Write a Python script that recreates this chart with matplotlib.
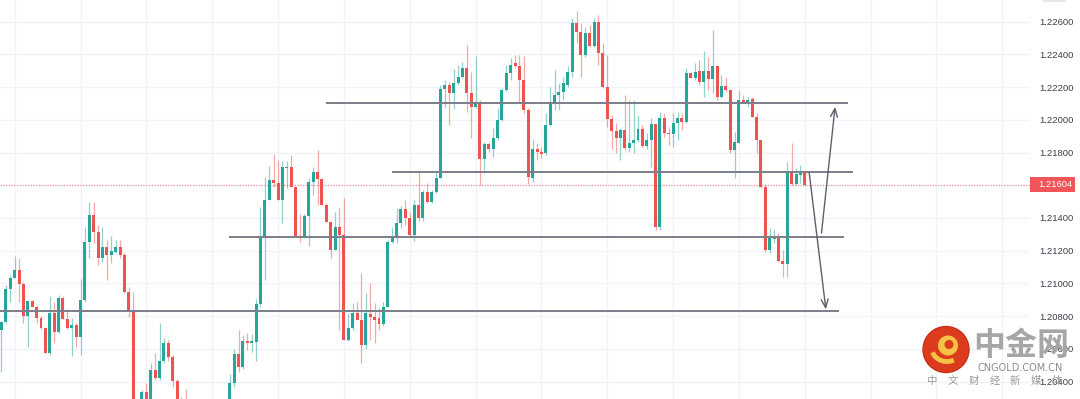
import matplotlib
matplotlib.use("Agg")
import matplotlib.pyplot as plt
import numpy as np
from matplotlib.patches import Rectangle, Circle, Arc
from matplotlib.transforms import IdentityTransform, blended_transform_factory

# EUR/USD style candles (left to right)
opens = [
    1.20715, 1.20764, 1.20965, 1.21033, 1.21082, 1.20996, 1.20800, 1.20892, 1.20855, 1.20788,
    1.20727, 1.20574, 1.20819, 1.20703, 1.20910, 1.20782, 1.20727, 1.20746, 1.20672, 1.20898,
    1.21253, 1.21418, 1.21314, 1.21155, 1.21222, 1.21173, 1.21192, 1.21222, 1.21173, 1.20947,
    1.20831, 1.20225, 1.20213, 1.20336, 1.20274, 1.20470, 1.20421, 1.20525, 1.20636, 1.20550,
    1.20403, 1.20256, 1.20195, 1.20134, 1.20110, 1.20150, 1.20120, 1.20060, 1.20120, 1.20170,
    1.20130, 1.20200, 1.20287, 1.20391, 1.20568, 1.20489, 1.20648, 1.20636, 1.20642, 1.20874,
    1.21284, 1.21510, 1.21632, 1.21614, 1.21510, 1.21705, 1.21712, 1.21589, 1.21284, 1.21277,
    1.21412, 1.21620, 1.21681, 1.21638, 1.21479, 1.21375, 1.21204, 1.21345, 1.21296, 1.20654,
    1.20727, 1.20819, 1.20776, 1.20623, 1.20813, 1.20794, 1.20788, 1.20752, 1.20855, 1.21253,
    1.21290, 1.21369, 1.21455, 1.21400, 1.21296, 1.21479, 1.21400, 1.21559, 1.21497, 1.21559,
    1.21644, 1.22189, 1.22213, 1.22164, 1.22225, 1.22262, 1.22317, 1.22164, 1.22079, 1.22109,
    1.21761, 1.21852, 1.21822, 1.21889, 1.21999, 1.22183, 1.22287, 1.22348, 1.22329, 1.22244,
    1.22060, 1.21644, 1.21822, 1.21803, 1.21797, 1.21968, 1.22103, 1.22152, 1.22170, 1.22213,
    1.22293, 1.22592, 1.22537, 1.22397, 1.22531, 1.22452, 1.22598, 1.22409, 1.22201, 1.22005,
    1.21932, 1.21889, 1.21938, 1.21828, 1.21858, 1.21877, 1.21944, 1.21840, 1.21877, 1.21975,
    1.21345, 1.22011, 1.21920, 1.21913, 1.21981, 1.22011, 1.21987, 1.22287, 1.22256, 1.22299,
    1.22232, 1.22299, 1.22250, 1.22329, 1.22140, 1.22207, 1.22183, 1.21816, 1.21858, 1.22121,
    1.22103, 1.22127, 1.22017, 1.21877, 1.21589, 1.21204, 1.21271, 1.21277, 1.21137, 1.21118,
    1.21681, 1.21608, 1.21663, 1.21675,
]
highs = [
    1.20770, 1.20990, 1.21051, 1.21167, 1.21155, 1.21008, 1.20892, 1.20898, 1.20868, 1.20800,
    1.20733, 1.20923, 1.20886, 1.20929, 1.20923, 1.20843, 1.20788, 1.20758, 1.21026, 1.21345,
    1.21497, 1.21497, 1.21357, 1.21345, 1.21265, 1.21290, 1.21265, 1.21265, 1.21186, 1.20977,
    1.20947, 1.20270, 1.20348, 1.20391, 1.20513, 1.20574, 1.20758, 1.20666, 1.20654, 1.20562,
    1.20415, 1.20305, 1.20354, 1.20200, 1.20180, 1.20210, 1.20160, 1.20140, 1.20190, 1.20230,
    1.20220, 1.20270, 1.20446, 1.20599, 1.20715, 1.20684, 1.20697, 1.20690, 1.20904, 1.21467,
    1.21650, 1.21718, 1.21791, 1.21754, 1.21748, 1.21748, 1.21785, 1.21589, 1.21424, 1.21424,
    1.21644, 1.21712, 1.21816, 1.21638, 1.21491, 1.21375, 1.21436, 1.21461, 1.21522, 1.20819,
    1.20880, 1.20886, 1.21063, 1.20941, 1.21002, 1.20880, 1.20849, 1.20886, 1.21265, 1.21345,
    1.21461, 1.21473, 1.21510, 1.21436, 1.21510, 1.21681, 1.21571, 1.21614, 1.21571, 1.21681,
    1.22213, 1.22244, 1.22232, 1.22311, 1.22336, 1.22354, 1.22458, 1.22293, 1.22391, 1.22121,
    1.21864, 1.21864, 1.21950, 1.22072, 1.22195, 1.22336, 1.22378, 1.22397, 1.22397, 1.22391,
    1.22072, 1.21883, 1.21858, 1.21834, 1.22042, 1.22201, 1.22305, 1.22225, 1.22262, 1.22329,
    1.22623, 1.22666, 1.22592, 1.22568, 1.22580, 1.22623, 1.22641, 1.22470, 1.22397, 1.22030,
    1.21981, 1.21950, 1.22152, 1.22121, 1.22121, 1.22030, 1.21968, 1.21920, 1.22011, 1.21975,
    1.22048, 1.22042, 1.21956, 1.22042, 1.22048, 1.22042, 1.22317, 1.22293, 1.22348, 1.22366,
    1.22421, 1.22384, 1.22550, 1.22329, 1.22274, 1.22262, 1.22183, 1.21926, 1.22183, 1.22152,
    1.22140, 1.22140, 1.22042, 1.21877, 1.21608, 1.21339, 1.21326, 1.21308, 1.21204, 1.21742,
    1.21858, 1.21705, 1.21724, 1.21681,
]
lows = [
    1.20458, 1.20758, 1.20886, 1.21033, 1.20886, 1.20758, 1.20611, 1.20855, 1.20758, 1.20721,
    1.20574, 1.20562, 1.20636, 1.20697, 1.20782, 1.20721, 1.20556, 1.20611, 1.20562, 1.20886,
    1.21155, 1.21247, 1.21112, 1.21131, 1.21020, 1.21125, 1.21186, 1.21155, 1.20941, 1.20794,
    1.20195, 1.20150, 1.20190, 1.20230, 1.20240, 1.20409, 1.20409, 1.20513, 1.20525, 1.20366,
    1.20225, 1.20164, 1.20103, 1.20080, 1.20060, 1.20090, 1.20030, 1.20020, 1.20080, 1.20100,
    1.20110, 1.20150, 1.20256, 1.20366, 1.20458, 1.20476, 1.20593, 1.20581, 1.20525, 1.20855,
    1.21020, 1.21510, 1.21589, 1.21510, 1.21369, 1.21583, 1.21589, 1.21284, 1.21253, 1.21277,
    1.21228, 1.21540, 1.21479, 1.21479, 1.21375, 1.21155, 1.21204, 1.20715, 1.20654, 1.20648,
    1.20715, 1.20776, 1.20513, 1.20599, 1.20654, 1.20636, 1.20715, 1.20740, 1.20855, 1.21247,
    1.21247, 1.21339, 1.21357, 1.21284, 1.21259, 1.21381, 1.21381, 1.21491, 1.21491, 1.21553,
    1.21644, 1.22072, 1.21968, 1.22066, 1.22213, 1.22256, 1.22048, 1.21889, 1.22072, 1.21601,
    1.21693, 1.21803, 1.21773, 1.21877, 1.21993, 1.22176, 1.22244, 1.22317, 1.22103, 1.22042,
    1.21608, 1.21620, 1.21754, 1.21767, 1.21785, 1.21962, 1.22060, 1.22060, 1.22121, 1.22201,
    1.22262, 1.22470, 1.22262, 1.22384, 1.22446, 1.22446, 1.22336, 1.22195, 1.21956, 1.21822,
    1.21797, 1.21754, 1.21816, 1.21803, 1.21797, 1.21864, 1.21834, 1.21822, 1.21712, 1.21326,
    1.21326, 1.21895, 1.21846, 1.21834, 1.21877, 1.21938, 1.21981, 1.22256, 1.22244, 1.22213,
    1.22140, 1.22183, 1.22164, 1.22121, 1.22134, 1.22170, 1.21797, 1.21644, 1.21858, 1.22103,
    1.22079, 1.22017, 1.21797, 1.21583, 1.21192, 1.21186, 1.21247, 1.21131, 1.21039, 1.21039,
    1.21601, 1.21601, 1.21614, 1.21595,
]
closes = [
    1.20764, 1.20965, 1.21033, 1.21082, 1.20996, 1.20800, 1.20892, 1.20855, 1.20788, 1.20727,
    1.20574, 1.20819, 1.20703, 1.20910, 1.20782, 1.20727, 1.20746, 1.20672, 1.20898, 1.21253,
    1.21418, 1.21314, 1.21155, 1.21222, 1.21173, 1.21198, 1.21222, 1.21173, 1.20947, 1.20831,
    1.20225, 1.20200, 1.20336, 1.20256, 1.20470, 1.20421, 1.20525, 1.20636, 1.20550, 1.20403,
    1.20256, 1.20195, 1.20134, 1.20110, 1.20150, 1.20120, 1.20060, 1.20120, 1.20170, 1.20130,
    1.20200, 1.20250, 1.20391, 1.20568, 1.20489, 1.20648, 1.20636, 1.20648, 1.20874, 1.21284,
    1.21510, 1.21632, 1.21614, 1.21510, 1.21712, 1.21712, 1.21589, 1.21284, 1.21277, 1.21412,
    1.21620, 1.21681, 1.21638, 1.21479, 1.21375, 1.21204, 1.21345, 1.21296, 1.20654, 1.20727,
    1.20819, 1.20776, 1.20623, 1.20819, 1.20794, 1.20776, 1.20752, 1.20855, 1.21253, 1.21284,
    1.21369, 1.21455, 1.21400, 1.21296, 1.21479, 1.21400, 1.21559, 1.21497, 1.21559, 1.21644,
    1.22189, 1.22213, 1.22164, 1.22225, 1.22262, 1.22317, 1.22164, 1.22079, 1.22109, 1.21761,
    1.21852, 1.21822, 1.21889, 1.21999, 1.22183, 1.22287, 1.22336, 1.22329, 1.22244, 1.22060,
    1.21650, 1.21822, 1.21803, 1.21791, 1.21968, 1.22103, 1.22152, 1.22170, 1.22225, 1.22293,
    1.22592, 1.22537, 1.22397, 1.22531, 1.22452, 1.22598, 1.22409, 1.22201, 1.22005, 1.21932,
    1.21889, 1.21938, 1.21828, 1.21858, 1.21877, 1.21944, 1.21840, 1.21877, 1.21975, 1.21345,
    1.22011, 1.21920, 1.21913, 1.21981, 1.22011, 1.21987, 1.22287, 1.22256, 1.22293, 1.22232,
    1.22299, 1.22250, 1.22329, 1.22140, 1.22207, 1.22183, 1.21816, 1.21864, 1.22121, 1.22103,
    1.22121, 1.22017, 1.21877, 1.21589, 1.21204, 1.21277, 1.21277, 1.21137, 1.21118, 1.21681,
    1.21608, 1.21669, 1.21675, 1.21604,
]

# drawn support / resistance levels and the bar range each one covers
level_prices = [1.22105, 1.21683, 1.21285, 1.20831]
level_spans = [(73.9, 192.8), (88.9, 193.9), (51.9, 191.9), (-0.5, 190.8)]

# the two projection arrows (start, end) as (bar, price)
arrow_up = [(186.8, 1.21308), (189.9, 1.22080)]
arrow_down = [(184.0, 1.21677), (187.8, 1.20841)]

last_price = 1.21604
price_ticks = [1.204, 1.206, 1.208, 1.210, 1.212, 1.214, 1.216, 1.218, 1.220, 1.222, 1.224, 1.226]

UP = "#26a69a"
DOWN = "#ef5350"

fig = plt.figure(figsize=(10.8, 3.99), dpi=100)
ax = fig.add_axes([0, 0, 1030 / 1080, 1])

x = np.arange(len(opens))
o = np.array(opens)
h = np.array(highs)
l = np.array(lows)
c = np.array(closes)
up = c >= o
colors = np.where(up, UP, DOWN)

ax.vlines(x, l, h, colors=colors, lw=0.9, alpha=0.5, zorder=2)
body = np.maximum(np.abs(c - o), 0.00007)
ax.bar(x, body, bottom=np.minimum(o, c), width=0.68, color=colors, zorder=3)

for lev, (x0, x1) in zip(level_prices, level_spans):
    ax.hlines(lev, x0, x1, color="#7b7e88", lw=1.4, zorder=4)

for start, end in (arrow_up, arrow_down):
    ax.annotate("", xy=end, xytext=start,
                arrowprops=dict(arrowstyle="->,head_length=0.6,head_width=0.25",
                                color="#5d606b", lw=1.0, shrinkA=0, shrinkB=0),
                zorder=5)

ax.axhline(last_price, color="#f49b9b", lw=0.9, ls=(0, (1, 1.2)), zorder=1)

ax.set_xlim(-0.34, 234.3)
ax.set_ylim(1.20293, 1.22733)

ax.set_yticks(price_ticks)
ax.set_yticklabels([f"{t:.5f}" for t in price_ticks])
ax.yaxis.tick_right()
ax.tick_params(axis="y", length=0, pad=7, labelsize=6.8, labelcolor="#3c3f4a")
for lab in ax.get_yticklabels():
    lab.set_family("Liberation Sans")
ax.set_xticks(np.arange(3, 234, 15))
ax.tick_params(axis="x", length=0, labelbottom=False)
ax.grid(color="#f0f3fa", lw=1)
ax.set_axisbelow(True)
for s in ax.spines.values():
    s.set_visible(False)

# current price tag on the scale
tr = blended_transform_factory(ax.transAxes, ax.transData)
ax.add_patch(Rectangle((1.0, last_price - 0.00046), 45 / 1030, 0.00092, transform=tr,
                       facecolor="#f0555a", edgecolor="none", clip_on=False, zorder=6))
ax.text(1.0 + 8 / 1030, last_price, f"{last_price:.5f}", transform=tr, color="white",
        fontsize=6.8, family="Liberation Sans", va="center", ha="left", clip_on=False, zorder=7)

# small button edge top right
fig.add_artist(Rectangle((1043 / 1080, 1 - 2 / 399), 23 / 1080, 2 / 399,
                         transform=fig.transFigure, facecolor="#e6e8ee", edgecolor="none"))

# cngold watermark
cx, cy = 946, 399 - 349.5
fig.add_artist(Circle((cx, cy), 23, transform=IdentityTransform(), facecolor="#dc3b1e",
                      edgecolor="#c92e1a", lw=1))
fig.add_artist(Circle((cx + 2, cy + 4), 10, transform=IdentityTransform(), facecolor="#f6c245",
                      edgecolor="none"))
fig.add_artist(Circle((cx + 3, cy + 5), 4.5, transform=IdentityTransform(), facecolor="#dc3b1e",
                      edgecolor="none"))
fig.add_artist(Arc((cx + 1, cy + 1), 30, 26, theta1=195, theta2=300, transform=IdentityTransform(),
                   color="#f6c245", lw=3.5))

cjk = ["Noto Sans CJK SC", "DejaVu Sans"]
fig.text(1021 / 1080, 1 - 346 / 399, "中金网", fontsize=23, fontweight="bold", color="#a6a6a6",
         family=cjk, ha="center", va="center")
fig.text(1020 / 1080, 1 - 368 / 399, "CNGOLD.COM.CN", fontsize=7, color="#8c8c8c",
         family="DejaVu Sans", ha="center", va="center")
for k, ch in enumerate("中文财经新媒体"):
    fig.text((932 + 20.8 * k) / 1080, 1 - 381 / 399, ch, fontsize=7.5, color="#9a9a9a",
             family=cjk, ha="center", va="center")

fig.savefig("out.png", dpi=100)
